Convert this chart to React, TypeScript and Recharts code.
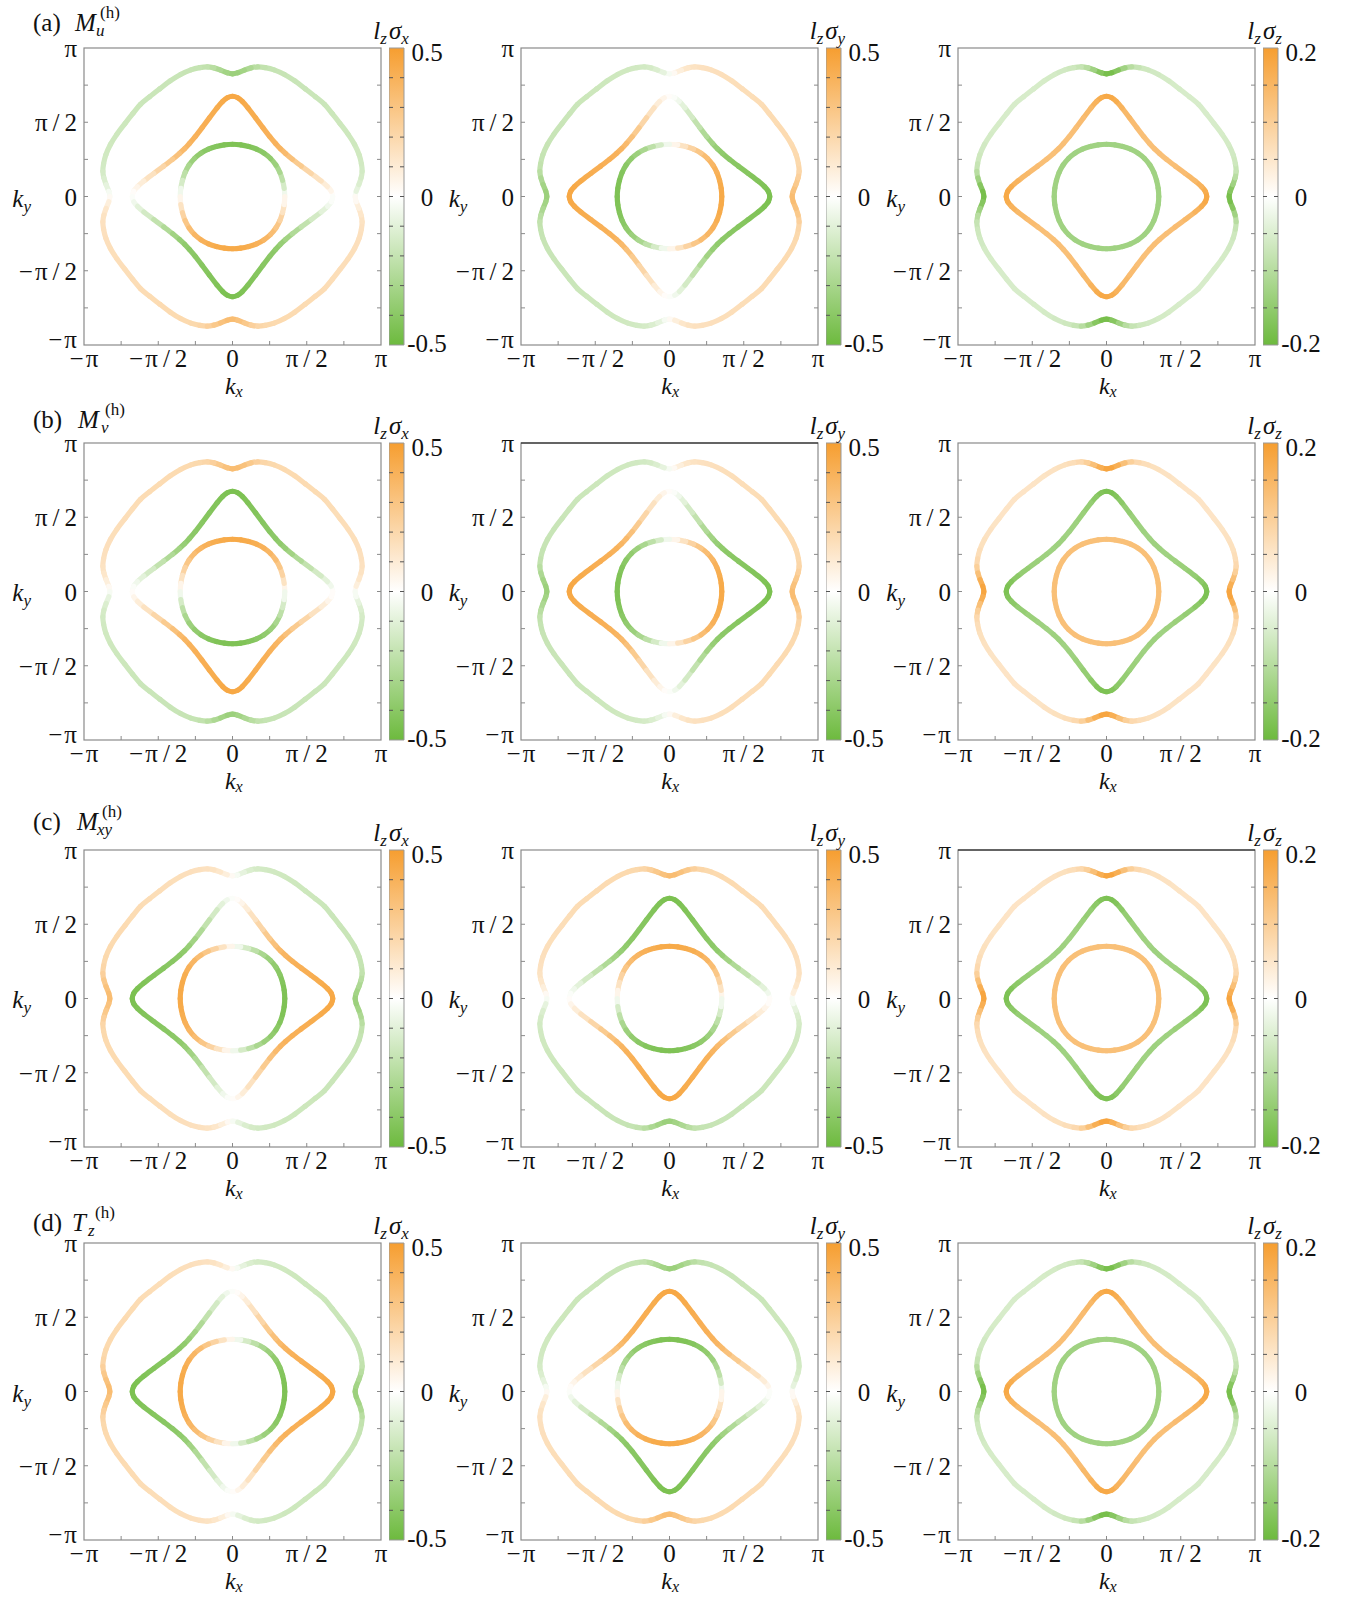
import React from "react";
import { LineChart, Line, XAxis, YAxis, BarChart, Bar } from "recharts";

// Fermi-surface rings, one octant (0° -> 45°), coordinates in units of π
const INNER_OCT = [[0.352, 0], [0.348, 0.055], [0.337, 0.109], [0.319, 0.162], [0.292, 0.212], [0.256, 0.256]];
const MIDDLE_OCT = [[0.675, 0], [0.665, 0.035], [0.64, 0.066], [0.597, 0.104], [0.53, 0.155], [0.463, 0.205], [0.403, 0.251], [0.357, 0.29], [0.322, 0.322]];
const OUTER_OCT = [[0.826, 0], [0.833, 0.035], [0.851, 0.08], [0.866, 0.125], [0.873, 0.17], [0.868, 0.22], [0.853, 0.28], [0.822, 0.35], [0.778, 0.42], [0.725, 0.49], [0.672, 0.558], [0.62, 0.62]];

const S_INNER = [0, 0.1, 0.19, 0.26, 0.32, 0.36, 0.39, 0.41, 0.43, 0.44, 0.44];
const S_MIDDLE = [0, -0.03, -0.07, -0.12, -0.18, -0.24, -0.3, -0.34, -0.37, -0.39, -0.4, -0.41, -0.42, -0.43, -0.44, -0.45, -0.45];
const S_OUTER = [0, 0.06, 0.11, 0.14, 0.15, 0.155, 0.16, 0.165, 0.17, 0.17, 0.175, 0.18, 0.18, 0.185, 0.185, 0.19, 0.195, 0.2, 0.22, 0.26, 0.3, 0.33, 0.35];

// lzσz texture along one octant
const Z_INNER = [0.13, 0.13, 0.13, 0.13, 0.13, 0.13];
const Z_MIDDLE = [-0.18, -0.175, -0.165, -0.15, -0.14, -0.135, -0.13, -0.13, -0.135];
const Z_OUTER = [0.19, 0.18, 0.15, 0.11, 0.085, 0.07, 0.065, 0.06, 0.058, 0.055, 0.055, 0.055];

const ROW_TAGS = ["(a)", "(b)", "(c)", "(d)"];
const ROW_OPS = ["M", "M", "M", "T"];
const ROW_SUBS = ["u", "v", "xy", "z"];
const COMPONENTS = ["x", "y", "z"];
const RANGES = [0.5, 0.5, 0.2];
const PATTERNS = [
  ["S", "C", "Z"],
  ["S", "C", "Z"],
  ["C", "S", "Z"],
  ["C", "S", "Z"],
];
const SIGNS = [
  [-1, 1, -1],
  [1, 1, 1],
  [-1, 1, 1],
  [-1, -1, -1],
];
const TOP_DARK = [
  [false, false, false],
  [false, true, false],
  [false, false, true],
  [false, false, false],
];

const AXIS_TICKS = [-1, -0.75, -0.5, -0.25, 0, 0.25, 0.5, 0.75, 1];
const AXIS_LABELS: Record<string, string> = {
  "-1": "\u2212\u200aπ",
  "-0.5": "\u2212\u200aπ\u2009/\u20092",
  "0": "0",
  "0.5": "π\u2009/\u20092",
  "1": "π",
};
const CB_TICKS_05 = [-0.5, -0.4, -0.3, -0.2, -0.1, 0, 0.1, 0.2, 0.3, 0.4, 0.5];
const CB_TICKS_02 = [-0.2, -0.15, -0.1, -0.05, 0, 0.05, 0.1, 0.15, 0.2];

const COL_X = [84.3, 520.7, 958.3];
const ROW_Y = [48.4, 442.7, 849.7, 1243.3];
const TITLE_BASE = [31, 428, 830, 1231];
const TITLE_OP_X = [75, 78, 77, 72];
const TITLE_SUB_X = [96, 101, 97, 88];
const TITLE_SUP_X = [100, 105, 102, 95];
const BOX = 297;
const ML = 80, MT = 22, MR = 10, MB = 40;
const BAR_W = 15, BAR_GAP = 8;

const FONT = "'Liberation Serif', 'DejaVu Serif', serif";
const FRAME = "#8a8a8a";
const ORANGE = [246, 158, 48];
const GREEN = [109, 186, 62];

function tint(t: number) {
  const c = t >= 0 ? ORANGE : GREEN;
  const a = Math.min(1, Math.abs(t));
  const ch = (k: number) => Math.round(255 + (c[k] - 255) * a);
  return `rgb(${ch(0)},${ch(1)},${ch(2)})`;
}

function quadrant(oct: number[][]) {
  const q = oct.map((p) => [p[0], p[1]]);
  for (let i = oct.length - 2; i >= 0; i--) q.push([oct[i][1], oct[i][0]]);
  return q;
}

function ring(oct: number[][], sVals: number[], zVals: number[], pattern: string, sign: number) {
  const q = quadrant(oct);
  const m = q.length;
  const pts: { x: number; y: number; j: number; sx: number; sy: number }[] = [];
  for (let j = 0; j < m; j++) pts.push({ x: q[j][0], y: q[j][1], j, sx: 1, sy: 1 });
  for (let j = m - 2; j >= 0; j--) pts.push({ x: -q[j][0], y: q[j][1], j, sx: -1, sy: 1 });
  for (let j = 1; j < m; j++) pts.push({ x: -q[j][0], y: -q[j][1], j, sx: -1, sy: -1 });
  for (let j = m - 2; j >= 0; j--) pts.push({ x: q[j][0], y: -q[j][1], j, sx: 1, sy: -1 });
  return pts.map((p) => {
    let v = 0;
    if (pattern === "S") v = p.sy * sVals[p.j];
    else if (pattern === "C") v = p.sx * sVals[m - 1 - p.j];
    else v = zVals[Math.min(p.j, m - 1 - p.j)];
    return { x: p.x, y: p.y, v: sign * v };
  });
}

function segmentDot(range: number) {
  return (props: any) => {
    const { index, points } = props;
    const key = `seg-${index}`;
    if (!points || index >= points.length - 1) return <g key={key} />;
    const n = points.length;
    const p1 = points[index];
    const p2 = points[index + 1];
    const p0 = index > 0 ? points[index - 1] : points[n - 2];
    const p3 = index + 2 < n ? points[index + 2] : points[1];
    const c1x = p1.x + (p2.x - p0.x) / 6;
    const c1y = p1.y + (p2.y - p0.y) / 6;
    const c2x = p2.x - (p3.x - p1.x) / 6;
    const c2y = p2.y - (p3.y - p1.y) / 6;
    const v = (p1.payload.v + p2.payload.v) / 2;
    return (
      <path
        key={key}
        d={`M${p1.x},${p1.y}C${c1x},${c1y} ${c2x},${c2y} ${p2.x},${p2.y}`}
        stroke={tint(v / range)}
        strokeWidth={5.2}
        strokeLinecap="round"
        fill="none"
      />
    );
  };
}

function Label(props: any) {
  return <text fontFamily={FONT} fontSize={25} fill="#111" {...props} />;
}

function bottomTick(p: any) {
  const v = p.payload.value;
  const lab = AXIS_LABELS[String(v)];
  return (
    <g>
      {Math.abs(v) < 1 && <line x1={p.x} x2={p.x} y1={p.y} y2={p.y - 4} stroke={FRAME} />}
      {lab && (
        <Label x={p.x} y={p.y + 22} textAnchor="middle">
          {lab}
        </Label>
      )}
    </g>
  );
}

function leftTick(p: any) {
  const v = p.payload.value;
  const lab = AXIS_LABELS[String(v)];
  return (
    <g>
      {Math.abs(v) < 1 && <line x1={p.x} x2={p.x + 4} y1={p.y} y2={p.y} stroke={FRAME} />}
      {lab && (
        <Label x={p.x - 7} y={p.y + (v === -1 ? 3 : 9)} textAnchor="end">
          {lab}
        </Label>
      )}
    </g>
  );
}

function topTick(p: any) {
  const v = p.payload.value;
  return <g>{Math.abs(v) < 1 && <line x1={p.x} x2={p.x} y1={p.y} y2={p.y + 4} stroke={FRAME} />}</g>;
}

function rightTick(p: any) {
  const v = p.payload.value;
  return <g>{Math.abs(v) < 1 && <line x1={p.x} x2={p.x - 4} y1={p.y} y2={p.y} stroke={FRAME} />}</g>;
}

function Panel({ row, col }: { row: number; col: number }) {
  const bx = COL_X[col];
  const by = ROW_Y[row];
  const pattern = PATTERNS[row][col];
  const sign = SIGNS[row][col];
  const range = RANGES[col];
  const rings = [
    ring(OUTER_OCT, S_OUTER, Z_OUTER, pattern, sign),
    ring(MIDDLE_OCT, S_MIDDLE, Z_MIDDLE, pattern, sign),
    ring(INNER_OCT, S_INNER, Z_INNER, pattern, sign),
  ];
  const dot = segmentDot(range);
  const common = {
    type: "number" as const,
    domain: [-1, 1],
    ticks: AXIS_TICKS,
    interval: 0,
    tickSize: 0,
    tickMargin: 0,
    tickLine: false,
    allowDataOverflow: true,
  };
  // every axis takes 1px, so the margins are one pixel smaller
  return (
    <div style={{ position: "absolute", left: bx - ML, top: by - MT }}>
      <LineChart width={ML + BOX + MR} height={MT + BOX + MB} margin={{ top: MT - 1, right: MR - 1, bottom: MB - 1, left: ML - 1 }}>
        <XAxis xAxisId="b" dataKey="x" orientation="bottom" height={1} axisLine={false} tick={bottomTick} {...common} />
        <XAxis xAxisId="t" orientation="top" height={1} axisLine={false} tick={topTick} {...common} />
        <YAxis yAxisId="l" orientation="left" width={1} axisLine={false} tick={leftTick} {...common} />
        <YAxis yAxisId="r" orientation="right" width={1} axisLine={false} tick={rightTick} {...common} />
        {rings.map((data, k) => (
          <Line
            key={k}
            xAxisId="b"
            yAxisId="l"
            data={data}
            dataKey="y"
            stroke="none"
            dot={dot}
            activeDot={false}
            legendType="none"
            isAnimationActive={false}
          />
        ))}
      </LineChart>
      <svg width={ML + BOX + MR} height={MT + BOX + MB} style={{ position: "absolute", left: 0, top: 0, pointerEvents: "none" }}>
        <rect x={ML} y={MT} width={BOX} height={BOX} fill="none" stroke={FRAME} strokeWidth={1.2} />
        {TOP_DARK[row][col] && <line x1={ML} x2={ML + BOX} y1={MT} y2={MT} stroke="#111" strokeWidth={1.2} />}
      </svg>
    </div>
  );
}

function ColorBar({ row, col }: { row: number; col: number }) {
  const range = RANGES[col];
  const ticks = range === 0.5 ? CB_TICKS_05 : CB_TICKS_02;
  const id = `cb-${row}-${col}`;
  const left = COL_X[col] + BOX + BAR_GAP;
  const top = ROW_Y[row];
  const barData = [{ k: "c", r: [-range, range] }];
  const fmt = (v: number) => (v === 0 ? "0" : String(v));
  const tick = (p: any) => {
    const v = p.payload.value;
    const inside = Math.abs(v) < range - 1e-9;
    const major = v === 0 || Math.abs(Math.abs(v) - range) < 1e-9;
    const dy = v > 0 && major ? 13 : v < 0 && major ? 7 : 9;
    return (
      <g>
        {inside && <line x1={p.x - 4} x2={p.x} y1={p.y} y2={p.y} stroke="#555" />}
        {inside && <line x1={p.x - BAR_W} x2={p.x - BAR_W + 4} y1={p.y} y2={p.y} stroke="#555" />}
        {major && (
          <Label x={p.x + 23} y={p.y + dy} textAnchor="middle">
            {fmt(v)}
          </Label>
        )}
      </g>
    );
  };
  return (
    <div style={{ position: "absolute", left, top: top - MT }}>
      <BarChart width={BAR_W + 60} height={MT + BOX + 20} data={barData} margin={{ top: MT, right: 59, bottom: 20, left: 0 }} barCategoryGap={0}>
        <defs>
          <linearGradient id={id} x1="0" y1="0" x2="0" y2="1">
            <stop offset="0%" stopColor={tint(1)} />
            <stop offset="50%" stopColor={tint(0)} />
            <stop offset="100%" stopColor={tint(-1)} />
          </linearGradient>
        </defs>
        <XAxis dataKey="k" hide />
        <YAxis
          orientation="right"
          type="number"
          domain={[-range, range]}
          ticks={ticks}
          interval={0}
          width={1}
          tickSize={0}
          tickMargin={0}
          axisLine={false}
          tickLine={false}
          tick={tick}
        />
        <Bar dataKey="r" fill={`url(#${id})`} stroke="#999" strokeWidth={1} isAnimationActive={false} />
      </BarChart>
    </div>
  );
}

function Texts() {
  const it = { fontStyle: "italic" as const };
  const out: React.ReactNode[] = [];
  ROW_TAGS.forEach((tag, r) => {
    const b = TITLE_BASE[r];
    out.push(
      <g key={`title-${r}`} fontFamily={FONT} fill="#111">
        <text x={33} y={b} fontSize={25}>{tag}</text>
        <text x={TITLE_OP_X[r]} y={b} fontSize={25} style={it}>{ROW_OPS[r]}</text>
        <text x={TITLE_SUB_X[r]} y={b + 5} fontSize={17} style={it}>{ROW_SUBS[r]}</text>
        <text x={TITLE_SUP_X[r]} y={b - 13} fontSize={17}>(h)</text>
      </g>
    );
    COMPONENTS.forEach((comp, c) => {
      const bx = COL_X[c];
      const by = ROW_Y[r];
      out.push(
        <g key={`lab-${r}-${c}`} fontFamily={FONT} fill="#111">
          <text x={bx + BOX / 2 + 1} y={by + BOX + 49} fontSize={24} textAnchor="middle">
            <tspan style={it}>k</tspan>
            <tspan dy={3} fontSize={16} style={it}>x</tspan>
          </text>
          <text x={bx - 72} y={by + BOX / 2 + 10} fontSize={25}>
            <tspan style={it}>k</tspan>
            <tspan dy={5} fontSize={17} style={it}>y</tspan>
          </text>
          <text x={bx + BOX + BAR_GAP - 16} y={by - 9} fontSize={25}>
            <tspan style={it}>l</tspan>
            <tspan dy={5} fontSize={17} style={it}>z</tspan>
            <tspan dy={-5} dx={2} style={it}>σ</tspan>
            <tspan dy={5} fontSize={17} style={it}>{comp}</tspan>
          </text>
        </g>
      );
    });
  });
  return (
    <svg width={1348} height={1598} style={{ position: "absolute", left: 0, top: 0, pointerEvents: "none" }}>
      {out}
    </svg>
  );
}

export default function App() {
  const cells: React.ReactNode[] = [];
  for (let r = 0; r < 4; r++) {
    for (let c = 0; c < 3; c++) {
      cells.push(<Panel key={`p-${r}-${c}`} row={r} col={c} />);
      cells.push(<ColorBar key={`b-${r}-${c}`} row={r} col={c} />);
    }
  }
  return (
    <div style={{ position: "absolute", left: 0, top: 0, width: 1348, height: 1598, background: "#fff", fontFamily: FONT }}>
      {cells}
      <Texts />
    </div>
  );
}
